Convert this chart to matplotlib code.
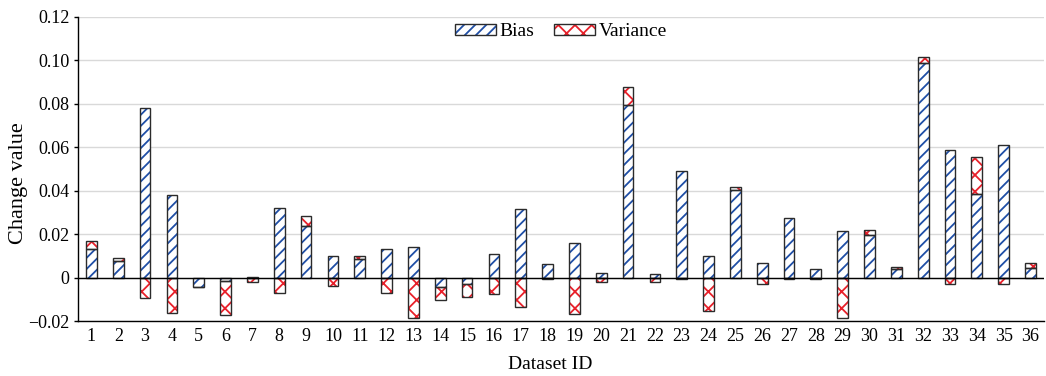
import matplotlib

matplotlib.use("Agg")
import matplotlib.pyplot as plt
from matplotlib.legend_handler import HandlerTuple
from matplotlib.patches import Patch
import numpy as np

DATASET_IDS = list(range(1, 37))
BIAS = [0.0133, 0.0074, 0.0779, 0.0380, -0.0041, -0.0015, 0.0005, 0.0319, 0.0235, 0.0097,
        0.0086, 0.0130, 0.0140, -0.0044, -0.0030, 0.0108, 0.0314, 0.0062, 0.0161, 0.0023,
        0.0794, 0.0017, 0.0491, 0.0101, 0.0403, 0.0066, 0.0276, 0.0039, 0.0213, 0.0196,
        0.0040, 0.0986, 0.0586, 0.0383, 0.0609, 0.0046]
VARIANCE = [0.0036, 0.0018, -0.0095, -0.0164, -0.0002, -0.0157, -0.0018, -0.0072, 0.0049, -0.0038,
            0.0015, -0.0069, -0.0184, -0.0059, -0.0057, -0.0076, -0.0136, -0.0006, -0.0167, -0.0018,
            0.0081, -0.0021, -0.0006, -0.0153, 0.0013, -0.0030, -0.0006, -0.0007, -0.0187, 0.0023,
            0.0008, 0.0030, -0.0028, 0.0173, -0.0030, 0.0023]

BIAS_COLOR = "#1f4ea6"
VAR_COLOR = "#e8202a"
EDGE = "#2b2b2b"
BIAS_HATCH = "///"
VAR_HATCH = "xx"

plt.rcParams["font.family"] = ["Liberation Serif", "DejaVu Serif"]
plt.rcParams["font.size"] = 13
plt.rcParams["hatch.linewidth"] = 1.3

x = np.array(DATASET_IDS)
bias = np.array(BIAS)
var = np.array(VARIANCE)
# excel style stacking: same-sign parts stack, opposite signs start from zero
var_bottom = np.where(np.sign(var) == np.sign(bias), bias, 0.0)

fig = plt.figure(figsize=(10.46, 3.76), dpi=100)
ax = fig.add_axes([0.0746, 0.146, 0.9234, 0.81])

width = 0.4
ax.bar(x, bias, width, color="white", edgecolor=BIAS_COLOR, hatch=BIAS_HATCH, linewidth=0, zorder=3)
ax.bar(x, bias, width, fill=False, edgecolor=EDGE, linewidth=1.0, zorder=4)
ax.bar(x, var, width, bottom=var_bottom, color="white", edgecolor=VAR_COLOR, hatch=VAR_HATCH,
       linewidth=0, zorder=3)
ax.bar(x, var, width, bottom=var_bottom, fill=False, edgecolor=EDGE, linewidth=1.0, zorder=4)

ax.axhline(0, color="black", linewidth=1.0, zorder=5)

ax.set_xlim(0.5, 36.5)
ax.set_ylim(-0.02, 0.12)
ax.set_xticks(x)
ax.set_xticklabels([str(i) for i in DATASET_IDS])
yticks = np.arange(-0.02, 0.121, 0.02)
ax.set_yticks(yticks)
ax.set_yticklabels(["\u22120.02", "0"] + [f"{v:.2f}" for v in yticks[2:]])
ax.tick_params(axis="x", length=0, pad=5)
ax.tick_params(axis="y", length=3, width=1.0, pad=3)
ax.yaxis.grid(True, color="#d9d9d9", linewidth=1.0, zorder=0)
ax.set_axisbelow(True)
for side in ["top", "right"]:
    ax.spines[side].set_visible(False)
ax.spines["left"].set_linewidth(1.0)
ax.spines["bottom"].set_linewidth(1.0)

ax.set_xlabel("Dataset ID", fontsize=14)
ax.xaxis.set_label_coords(0.489, -0.115)
ax.set_ylabel("Change value", fontsize=16)
ax.yaxis.set_label_coords(-0.052, 0.452)

bias_handle = (Patch(facecolor="white", edgecolor=BIAS_COLOR, hatch=BIAS_HATCH, linewidth=0),
               Patch(fill=False, edgecolor=EDGE, linewidth=1.0))
var_handle = (Patch(facecolor="white", edgecolor=VAR_COLOR, hatch=VAR_HATCH, linewidth=0),
              Patch(fill=False, edgecolor=EDGE, linewidth=1.0))
ax.legend([bias_handle, var_handle], ["Bias", "Variance"], handler_map={tuple: HandlerTuple(ndivide=1)},
          loc="upper center", bbox_to_anchor=(0.5, 1.035), ncol=2, frameon=False, fontsize=14,
          handlelength=2.1, handleheight=0.55, columnspacing=1.0, handletextpad=0.2)

fig.savefig("out.png", dpi=100)
